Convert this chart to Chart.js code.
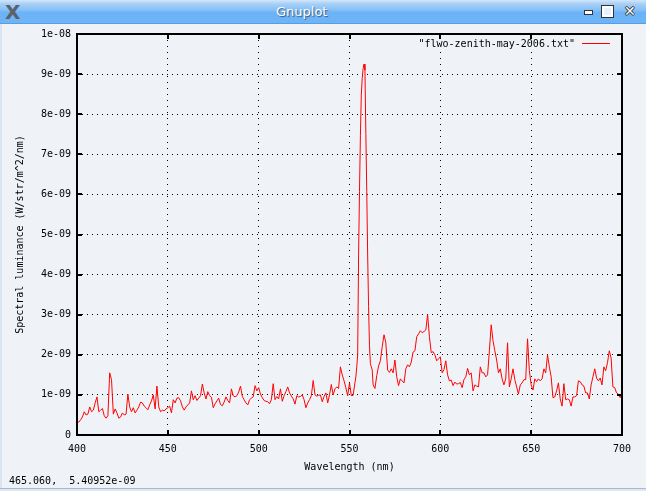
<!DOCTYPE html>
<html>
<head>
<meta charset="utf-8">
<title>Gnuplot</title>
<script src="https://cdn.jsdelivr.net/npm/chart.js@4.4.1/dist/chart.umd.min.js"></script>
<style>
  html, body { margin: 0; padding: 0; background: #eff3f8; width: 646px; height: 491px; overflow: hidden; }
  #win { position: relative; width: 646px; height: 491px; }
  #plot { position: absolute; left: 0; top: 0; }
  #titlebar {
    position: absolute; left: 0; top: 0; width: 646px; height: 23px; z-index: 2;
    background: linear-gradient(to bottom, #d3e6fa 0px, #a6cff7 4px, #80bdf6 11px, #6cb2f6 12px, #6eb5f8 23px);
    border-bottom: 1px solid #5b9de0;
  }
  #titlebar .logo { position: absolute; left: 5px; top: 0px; font: bold 20px "DejaVu Sans"; color: #5d6168; }
  #titlebar .title {
    position: absolute; left: 276px; top: 4px; font: 13px "DejaVu Sans"; color: #fff;
    text-shadow: 1px 1px 1px #35567d;
  }
  #titlebar .min { position: absolute; left: 584px; top: 10px; width: 7px; height: 3px; background: #fff; border: 1px solid #333; }
  #titlebar .max { position: absolute; left: 602px; top: 6px; width: 7px; height: 7px; border: 2px solid #fff; outline: 1px solid #333; background: #e8f2fc; }
  #titlebar .close {
    position: absolute; left: 624px; top: 3px; font: bold 14px "DejaVu Sans"; color: #fff;
    text-shadow: -1px 0 #333, 1px 0 #333, 0 -1px #333, 0 1px #333;
  }
  #leftedge { position: absolute; left: 0; top: 24px; width: 2px; height: 464px; background: #dbe5f1; }
  #status {
    position: absolute; left: 9px; top: 475px; font: 10px "DejaVu Sans Mono"; line-height: 12px;
    color: #000; white-space: pre;
  }
  #bottomedge { position: absolute; left: 0; top: 488px; width: 646px; height: 3px; border-top: 1px solid #a7bbd0; background: #dfe7f1; }
</style>
</head>
<body>
<div id="win">
  <canvas id="plot" width="646" height="491"></canvas>
  <div id="titlebar">
    <span class="logo">X</span>
    <span class="title">Gnuplot</span>
    <span class="min"></span>
    <span class="max"></span>
    <span class="close">✕</span>
  </div>
  <div id="leftedge"></div>
  <div id="status">465.060,  5.40952e-09</div>
  <div id="bottomedge"></div>
</div>
<script>
// Sky spectrum, luminance in units of 1e-9 W/str/m^2/nm
const wavelengths = [
  400, 401, 402, 403, 404, 405, 406, 407, 408, 409,
  410, 411, 412, 413, 414, 415, 416, 417, 418, 419,
  420, 421, 422, 423, 424, 425, 426, 427, 428, 429,
  430, 431, 432, 433, 434, 435, 436, 437, 438, 439,
  440, 441, 442, 443, 444, 445, 446, 447, 448, 449,
  450, 451, 452, 453, 454, 455, 456, 457, 458, 459,
  460, 461, 462, 463, 464, 465, 466, 467, 468, 469,
  470, 471, 472, 473, 474, 475, 476, 477, 478, 479,
  480, 481, 482, 483, 484, 485, 486, 487, 488, 489,
  490, 491, 492, 493, 494, 495, 496, 497, 498, 499,
  500, 501, 502, 503, 504, 505, 506, 507, 508, 509,
  510, 511, 512, 513, 514, 515, 516, 517, 518, 519,
  520, 521, 522, 523, 524, 525, 526, 527, 528, 529,
  530, 531, 532, 533, 534, 535, 536, 537, 538, 539,
  540, 541, 542, 543, 544, 545, 546, 547, 548, 549,
  550, 551, 552,
  553, 553.5, 554, 554.5, 555, 555.5, 556, 556.5, 557, 557.5,
  558, 558.5, 559, 559.5, 560, 560.5, 561, 561.5, 562, 562.5, 563,
  564, 565, 566, 567, 568, 569,
  570, 571, 572, 573, 574, 575, 576, 577, 578, 579,
  580, 581, 582, 583, 584, 585, 586, 587, 588, 589,
  590, 591, 592, 593, 594, 595, 596, 597, 598, 599,
  600, 601, 602, 603, 604, 605, 606, 607, 608, 609,
  610, 611, 612, 613, 614, 615, 616, 617, 618, 619,
  620, 621, 622, 623, 624, 625, 626, 627, 628, 629,
  630, 631, 632, 633, 634, 635, 636, 637, 638, 639,
  640, 641, 642, 643, 644, 645, 646, 647, 648, 649,
  650, 651, 652, 653, 654, 655, 656, 657, 658, 659,
  660, 661, 662, 663, 664, 665, 666, 667, 668, 669,
  670, 671, 672, 673, 674, 675, 676, 677, 678, 679,
  680, 681, 682, 683, 684, 685, 686, 687, 688, 689,
  690, 691, 692, 693, 694, 695, 696, 697, 698, 699, 700
];

const luminance = [
  0.33, 0.32, 0.38, 0.45, 0.58, 0.50, 0.52, 0.70, 0.58, 0.62,
  0.80, 0.95, 0.58, 0.62, 0.66, 0.48, 0.42, 0.48, 1.55, 1.38,
  0.52, 0.65, 0.55, 0.42, 0.45, 0.55, 0.50, 0.52, 1.02, 0.70,
  0.58, 0.68, 0.55, 0.62, 0.70, 0.82, 0.80, 0.72, 0.68, 0.63,
  0.75, 0.85, 1.00, 0.65, 1.22, 0.70, 0.58, 0.62, 0.60, 0.65,
  0.68, 0.72, 0.55, 0.88, 0.80, 0.92, 0.93, 0.85, 0.70, 0.62,
  0.70, 0.75, 0.80, 1.10, 0.88, 0.98, 0.86, 0.92, 0.98, 1.27,
  1.05, 0.90, 1.08, 0.98, 0.94, 0.68, 0.78, 0.85, 0.92, 0.76,
  0.73, 0.82, 0.95, 0.86, 0.80, 1.15, 0.98, 0.95, 0.98, 1.07,
  1.22, 0.96, 0.88, 0.80, 0.75, 0.88, 0.92, 0.95, 1.23, 1.10,
  1.18, 1.02, 0.93, 0.86, 0.84, 0.83, 0.78, 0.88, 1.28, 0.88,
  0.96, 0.90, 1.15, 0.84, 0.98, 1.08, 1.20, 1.05, 0.97, 0.90,
  0.77, 0.98, 0.95, 0.96, 1.00, 0.88, 0.68, 0.80, 0.88, 0.98,
  1.36, 1.00, 0.97, 0.99, 1.00, 0.83, 0.96, 1.05, 0.80, 1.00,
  1.26, 1.00, 1.15, 1.20, 1.16, 1.70, 1.50, 1.35, 1.18, 0.98,
  1.30, 0.98, 0.99,
  1.30, 1.45, 1.70, 2.00, 4.49, 6.07, 7.46, 8.48, 8.89, 9.14,
  9.25, 9.10, 7.52, 6.07, 4.49, 3.20, 2.24, 1.78, 1.70, 1.62, 1.25,
  1.16, 1.48, 1.72, 1.85, 2.20, 2.50,
  2.30, 1.62, 1.56, 1.65, 1.55, 1.87, 1.45, 1.23, 1.40, 1.35,
  1.30, 1.65, 1.75, 1.70, 1.82, 2.07, 2.10, 2.45, 2.52, 2.60,
  2.55, 2.58, 2.62, 3.00, 2.45, 2.05, 2.08, 2.00, 1.85, 1.90,
  1.95, 1.55, 1.63, 1.85, 1.50, 1.35, 1.37, 1.23, 1.32, 1.27,
  1.28, 1.31, 1.18, 1.38, 1.45, 1.66, 1.50, 1.55, 1.10, 1.25,
  1.22, 1.20, 1.70, 1.55, 1.55, 1.45, 1.50, 2.10, 2.75, 2.35,
  2.10, 1.87, 1.55, 1.65, 1.40, 1.25, 1.40, 2.30, 1.20, 1.40,
  1.65, 1.38, 1.20, 1.02, 1.25, 1.30, 1.38, 1.38, 2.40, 1.60,
  1.25, 1.12, 1.40, 1.33, 1.40, 1.35, 1.40, 1.65, 1.55, 2.00,
  1.70, 1.45, 0.93, 0.95, 1.10, 1.30, 0.90, 0.72, 1.28, 0.88,
  0.90, 0.88, 0.72, 0.95, 0.95, 0.98, 1.35, 1.33, 1.25, 1.22,
  1.05, 1.05, 0.90, 1.25, 1.45, 1.65, 1.42, 1.35, 1.42, 1.25,
  1.70, 1.60, 1.80, 2.10, 1.92, 1.20, 1.18, 1.05, 1.02, 0.93, 1.05
];

const xTicks = [400, 450, 500, 550, 600, 650, 700];
const yTickLabels = ['0', '1e-09', '2e-09', '3e-09', '4e-09', '5e-09',
  '6e-09', '7e-09', '8e-09', '9e-09', '1e-08'];

const seriesName = '"flwo-zenith-may-2006.txt"';
const xTitle = 'Wavelength (nm)';
const yTitle = 'Spectral luminance (W/str/m^2/nm)';

const BG = '#eff3f8';
const FONT = '"DejaVu Sans Mono"';

Chart.defaults.font.family = FONT;
Chart.defaults.font.size = 10;
Chart.defaults.color = '#000';

// gnuplot style: key in the top right corner, heavy border, ticks pointing inward on all four sides
const gnuplotFrame = {
  id: 'gnuplotFrame',
  afterDraw(chart) {
    const { ctx, chartArea: a, scales } = chart;
    const tickLen = 5;
    ctx.save();

    // key
    const textRight = a.right - 47;
    const keyY = a.top + 10;
    ctx.fillStyle = BG;
    ctx.fillRect(textRight - 163, a.top + 2, 203, 16);
    ctx.font = '10px ' + FONT;
    ctx.fillStyle = '#000';
    ctx.textAlign = 'right';
    ctx.textBaseline = 'middle';
    ctx.fillText(chart.data.datasets[0].label, textRight, keyY);
    ctx.strokeStyle = chart.data.datasets[0].borderColor;
    ctx.lineWidth = 1;
    ctx.beginPath();
    ctx.moveTo(textRight + 7, keyY - 0.5);
    ctx.lineTo(textRight + 35, keyY - 0.5);
    ctx.stroke();

    // border
    ctx.strokeStyle = '#000';
    ctx.lineWidth = 2;
    ctx.strokeRect(a.left, a.top, a.right - a.left, a.bottom - a.top);

    // inward ticks, mirrored
    ctx.beginPath();
    scales.x.ticks.forEach(t => {
      const px = Math.round(scales.x.getPixelForValue(t.value));
      ctx.moveTo(px, a.bottom);
      ctx.lineTo(px, a.bottom - tickLen);
      ctx.moveTo(px, a.top);
      ctx.lineTo(px, a.top + tickLen);
    });
    scales.y.ticks.forEach(t => {
      const py = Math.round(scales.y.getPixelForValue(t.value));
      ctx.moveTo(a.left, py);
      ctx.lineTo(a.left + tickLen, py);
      ctx.moveTo(a.right, py);
      ctx.lineTo(a.right - tickLen, py);
    });
    ctx.stroke();
    ctx.restore();
  }
};

new Chart(document.getElementById('plot'), {
  type: 'line',
  data: {
    datasets: [{
      label: seriesName,
      data: wavelengths.map((w, i) => ({ x: w, y: luminance[i] })),
      borderColor: '#ff0000',
      borderWidth: 1,
      pointRadius: 0,
      tension: 0,
      fill: false
    }]
  },
  options: {
    responsive: false,
    animation: false,
    devicePixelRatio: 1,
    events: [],
    layout: {
      padding: { left: 0, top: 34, right: 24, bottom: 0 }
    },
    plugins: {
      legend: { display: false },
      tooltip: { enabled: false }
    },
    scales: {
      x: {
        type: 'linear',
        min: 400,
        max: 700,
        afterBuildTicks: scale => { scale.ticks = xTicks.map(v => ({ value: v })); },
        afterFit: scale => { scale.height = 56; },
        grid: { color: '#000', lineWidth: 1, drawTicks: false },
        border: { display: false, dash: [1, 5] },
        ticks: { padding: 8, maxRotation: 0, autoSkip: false },
        title: {
          display: true,
          text: xTitle,
          padding: { top: 0, bottom: 18 }
        }
      },
      y: {
        type: 'linear',
        min: 0,
        max: 10,
        afterBuildTicks: scale => { scale.ticks = yTickLabels.map((_, i) => ({ value: i })); },
        afterFit: scale => { scale.width = 77; },
        grid: { color: '#000', lineWidth: 1, drawTicks: false },
        border: { display: false, dash: [1, 4] },
        ticks: {
          padding: 6,
          autoSkip: false,
          callback: (value, index) => yTickLabels[index]
        },
        title: {
          display: true,
          text: yTitle,
          padding: { top: 14, bottom: 0 }
        }
      }
    }
  },
  plugins: [gnuplotFrame]
});
</script>
</body>
</html>
